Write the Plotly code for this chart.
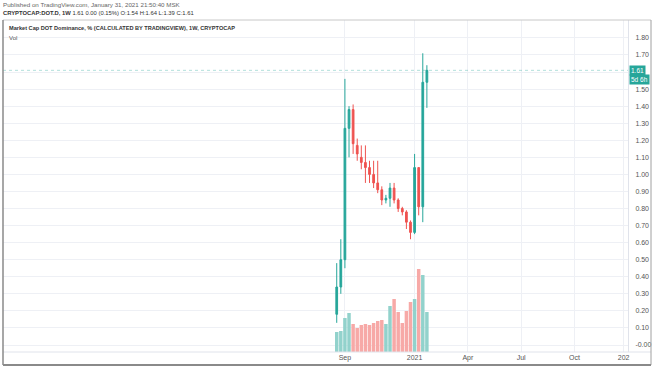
import plotly.graph_objects as go

# ---- data ----
dates = ["2020-08-24", "2020-08-31", "2020-09-07", "2020-09-14", "2020-09-21",
         "2020-09-28", "2020-10-05", "2020-10-12", "2020-10-19", "2020-10-26",
         "2020-11-02", "2020-11-09", "2020-11-16", "2020-11-23", "2020-11-30",
         "2020-12-07", "2020-12-14", "2020-12-21", "2020-12-28", "2021-01-04",
         "2021-01-11", "2021-01-18", "2021-01-25"]
open_ = [0.18, 0.34, 0.50, 1.27, 1.38, 1.17, 1.10, 1.07, 1.04, 1.00, 0.95, 0.91,
         0.85, 0.86, 0.92, 0.85, 0.80, 0.78, 0.72, 0.66, 1.04, 0.81, 1.54]
high = [0.48, 0.62, 1.56, 1.40, 1.41, 1.21, 1.17, 1.17, 1.08, 1.08, 1.08, 0.93,
        0.88, 0.95, 0.95, 0.86, 0.81, 0.79, 0.73, 1.12, 1.04, 1.71, 1.64]
low = [0.13, 0.30, 0.45, 1.10, 1.12, 1.08, 1.03, 0.95, 0.95, 0.92, 0.89, 0.82,
       0.83, 0.81, 0.83, 0.78, 0.76, 0.68, 0.62, 0.65, 0.76, 0.72, 1.39]
close = [0.34, 0.50, 1.27, 1.38, 1.18, 1.12, 1.07, 1.04, 1.00, 0.95, 0.91, 0.85,
         0.86, 0.92, 0.85, 0.80, 0.78, 0.72, 0.66, 1.04, 0.81, 1.54, 1.61]
volume = [20, 21, 34, 39, 28, 24, 27, 28, 27, 29, 31, 32, 28, 46, 53, 40, 29,
          41, 50, 53, 83, 77, 40]

price_ticks = [0.0, 0.1, 0.2, 0.3, 0.4, 0.5, 0.6, 0.7, 0.8, 0.9, 1.0, 1.1, 1.2,
               1.3, 1.4, 1.5, 1.6, 1.7, 1.8]
price_labels = ["-0.00", "0.10", "0.20", "0.30", "0.40", "0.50", "0.60", "0.70",
                "0.80", "0.90", "1.00", "1.10", "1.20", "1.30", "1.40", "1.50",
                "", "1.70", "1.80"]
time_ticks = ["2020-09-07", "2021-01-04", "2021-04-05", "2021-07-05",
              "2021-10-04", "2021-12-27"]
time_labels = ["Sep", "2021", "Apr", "Jul", "Oct", "202"]

UP = "#26a69a"
DOWN = "#ef5350"
UP_VOL = "#92d2cc"
DOWN_VOL = "#f7a9a7"
FONT = "Liberation Sans"

vol_colors = [UP_VOL if c >= o else DOWN_VOL for o, c in zip(open_, close)]

fig = go.Figure()
fig.add_trace(go.Bar(x=dates, y=volume, marker_color=vol_colors,
                     marker_line_width=0, yaxis="y2", showlegend=False))
fig.add_trace(go.Candlestick(
    x=dates, open=open_, high=high, low=low, close=close,
    increasing=dict(line=dict(color=UP, width=1), fillcolor=UP),
    decreasing=dict(line=dict(color=DOWN, width=1), fillcolor=DOWN),
    whiskerwidth=0, showlegend=False))

grid = "#eef0f5"
fig.update_layout(
    width=654, height=366,
    margin=dict(l=3, r=26, t=20, b=14),
    paper_bgcolor="white", plot_bgcolor="white",
    bargap=0.15, boxgap=0.4,
    font=dict(family=FONT, size=7, color="#555"),
    xaxis=dict(type="date", range=["2019-02-01", "2022-01-03 12:00"],
               tickvals=time_ticks, ticktext=time_labels,
               showgrid=True, gridcolor=grid, gridwidth=1,
               rangeslider=dict(visible=False), zeroline=False,
               showline=False, ticks="",
               tickfont=dict(family=FONT, size=7, color="#555")),
    yaxis=dict(side="right", range=[-0.041, 1.905],
               tickvals=price_ticks, ticktext=price_labels,
               showgrid=True, gridcolor=grid, zeroline=False,
               showline=True, linecolor="#e0e3eb", ticks="",
               ticklabelstandoff=5,
               tickfont=dict(family=FONT, size=7, color="#555")),
    yaxis2=dict(overlaying="y", range=[0, 4 * max(volume)], visible=False,
                showgrid=False),
    hovermode=False,
)

# price line for the last close
fig.add_shape(type="line", xref="paper", x0=0, x1=1, yref="y", y0=close[-1],
              y1=close[-1], line=dict(color="rgba(38,166,154,0.35)", width=1,
                                      dash="dot"))

# frame lines
xr = 1.0368
fig.add_shape(type="line", xref="paper", yref="paper", x0=0, x1=xr, y0=1, y1=1,
              line=dict(color="#c8c8c8", width=1))
fig.add_shape(type="line", xref="paper", yref="paper", x0=0, x1=xr, y0=0, y1=0,
              line=dict(color="#e0e3eb", width=1))
fig.add_shape(type="line", xref="paper", yref="paper", x0=0, x1=0, y0=1,
              y1=-0.039, line=dict(color="#8a8a8a", width=1.5))
fig.add_shape(type="line", xref="paper", yref="paper", x0=xr, x1=xr, y0=1,
              y1=-0.039, line=dict(color="#a0a0a0", width=1))
fig.add_shape(type="line", xref="paper", yref="paper", x0=0, x1=xr,
              y0=-0.039, y1=-0.039, line=dict(color="#8a8a8a", width=2))

# header texts
fig.add_annotation(xref="paper", yref="paper", x=-0.003, y=1.047,
                   xanchor="left", yanchor="middle", showarrow=False,
                   text="Published on TradingView.com, January 31, 2021 21:50:40 MSK",
                   font=dict(family=FONT, size=6.2, color="#666"))
fig.add_annotation(xref="paper", yref="paper", x=-0.003, y=1.02,
                   xanchor="left", yanchor="middle", showarrow=False,
                   text="<b>CRYPTOCAP:DOT.D, 1W</b> 1.61 0.00 (0.15%) O:1.54 H:1.64 L:1.39 C:1.61",
                   font=dict(family=FONT, size=5.85, color="#333"))
fig.add_annotation(xref="paper", yref="paper", x=0.007, y=0.976,
                   xanchor="left", yanchor="middle", showarrow=False,
                   text="<b>Market Cap DOT Dominance, % (CALCULATED BY TRADINGVIEW), 1W, CRYPTOCAP</b>",
                   font=dict(family=FONT, size=5.6, color="#333"))
fig.add_annotation(xref="paper", yref="paper", x=0.007, y=0.946,
                   xanchor="left", yanchor="middle", showarrow=False,
                   text="Vol", font=dict(family=FONT, size=6, color="#555"))

# last price labels on the price scale
fig.add_annotation(xref="paper", yref="y", x=1.002, y=close[-1],
                   xanchor="left", yanchor="middle", showarrow=False,
                   text="1.61", bgcolor=UP, borderpad=1,
                   font=dict(family=FONT, size=6.5, color="white"))
fig.add_annotation(xref="paper", yref="y", x=1.002, y=close[-1] - 0.054,
                   xanchor="left", yanchor="middle", showarrow=False,
                   text="5d 6h", bgcolor=UP, borderpad=1,
                   font=dict(family=FONT, size=6.5, color="white"))

fig.write_html("out.html")
